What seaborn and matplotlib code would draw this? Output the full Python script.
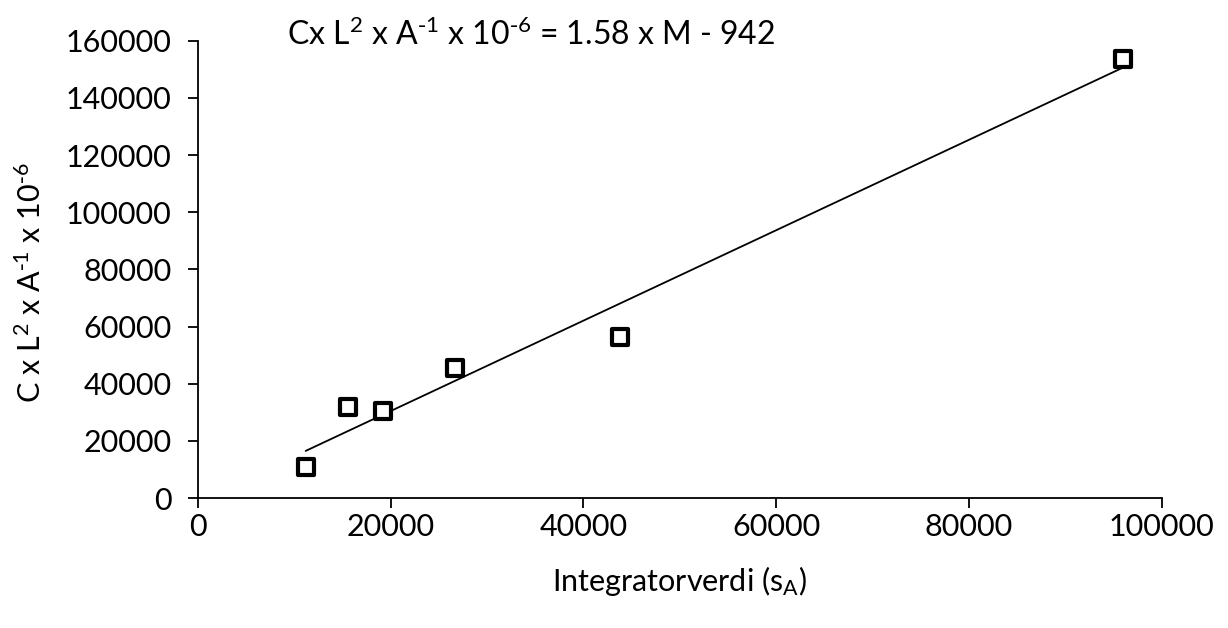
import numpy as np
import pandas as pd
import matplotlib
matplotlib.use("Agg")
import matplotlib.pyplot as plt
import seaborn as sns

# Data
integrator = [11200, 15600, 19200, 26700, 43800, 96000]
response = [10900, 31800, 30500, 45500, 56300, 153800]
x_ticks = [0, 20000, 40000, 60000, 80000, 100000]
y_ticks = [0, 20000, 40000, 60000, 80000, 100000, 120000, 140000, 160000]
equation = r"Cx L$^2$ x A$^{\text{-}1}$ x 10$^{\text{-}6}$ = 1.58 x M - 942"
x_label = "Integratorverdi (s$_A$)"
y_label = r"C x L$^2$ x A$^{\text{-}1}$ x 10$^{\text{-}6}$"

sns.set_theme(style="ticks")
plt.rcParams["font.family"] = ["Lato", "DejaVu Sans"]
plt.rcParams["mathtext.default"] = "regular"

df = pd.DataFrame({"x": integrator, "y": response})

fig = plt.figure(figsize=(12.28, 6.28), dpi=100)
ax = fig.add_axes([0.161, 0.207, 0.785, 0.728])

sns.regplot(data=df, x="x", y="y", ax=ax, ci=None, truncate=True,
            marker="s",
            scatter_kws=dict(s=140, facecolors="white", edgecolors="black",
                             linewidths=3, alpha=1, zorder=3),
            line_kws=dict(color="black", linewidth=1.3, zorder=2))

ax.set_xlim(0, 100000)
ax.set_ylim(0, 160000)
ax.set_xticks(x_ticks)
ax.set_yticks(y_ticks)
ax.set_xticklabels([str(v) for v in x_ticks])
ax.set_yticklabels([str(v) for v in y_ticks])
ax.tick_params(axis="both", labelsize=22, direction="out", length=7,
               width=1.3, color="black", labelcolor="black")
ax.tick_params(axis="x", pad=4)
ax.tick_params(axis="y", pad=12)
for side in ["top", "right"]:
    ax.spines[side].set_visible(False)
for side in ["left", "bottom"]:
    ax.spines[side].set_linewidth(1.3)
    ax.spines[side].set_color("black")

ax.set_xlabel(x_label, fontsize=22, color="black")
ax.set_ylabel(y_label, fontsize=22, color="black")
ax.xaxis.set_label_coords(0.5, -0.145)
ax.yaxis.set_label_coords(-0.157, 0.47)

fig.text(0.234, 0.945, equation, fontsize=23, color="black", ha="left", va="center")

fig.savefig("out.png", dpi=100, facecolor="white")
